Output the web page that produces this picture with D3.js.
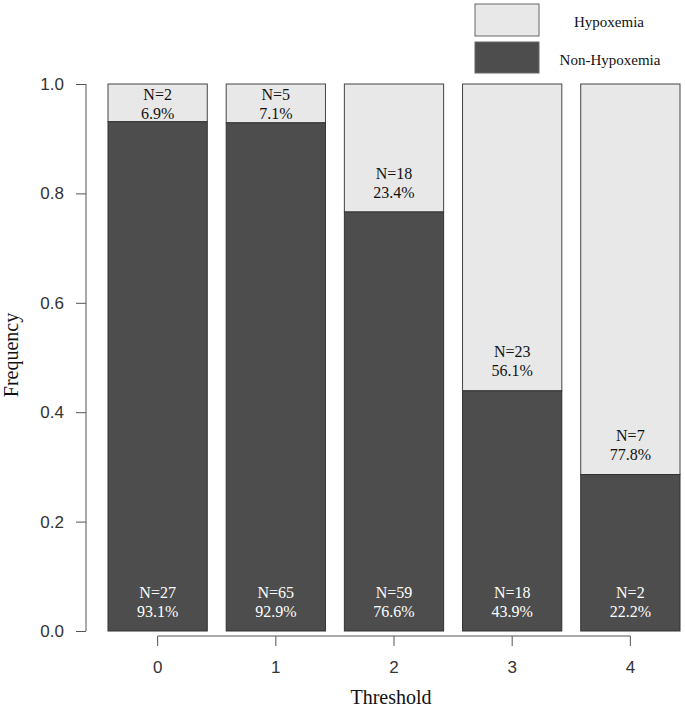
<!DOCTYPE html>
<html>
<head>
<meta charset="utf-8">
<script src="https://cdn.jsdelivr.net/npm/d3@7"></script>
<style>
html,body{margin:0;padding:0;background:#fff;}
svg{display:block;}
</style>
</head>
<body>
<svg id="chart" width="685" height="710"></svg>
<script>
const categories = ["0", "1", "2", "3", "4"];
const nonHypN = [27, 65, 59, 18, 2];
const hypN = [2, 5, 18, 23, 7];
const nonHypPct = ["93.1%", "92.9%", "76.6%", "43.9%", "22.2%"];
const hypPct = ["6.9%", "7.1%", "23.4%", "56.1%", "77.8%"];
// Non-hypoxemia segment heights as drawn in the figure
const nonHypHeight = [0.931, 0.929, 0.766, 0.439, 0.286];
const yTicks = [0, 0.2, 0.4, 0.6, 0.8, 1.0];
const legendLabels = ["Hypoxemia", "Non-Hypoxemia"];

const colLight = "#e8e8e8", colDark = "#4d4d4d";
const serif = "'Liberation Serif','Times New Roman',serif";
const sans = "'Liberation Sans',Arial,sans-serif";

const svg = d3.select("#chart");

const x = d3.scaleBand().domain(categories).range([108, 680]).paddingInner(0.16).paddingOuter(0);
const y = d3.scaleLinear().domain([0, 1]).range([631, 84]);

const data = categories.map((c, i) => ({
  c, nonN: nonHypN[i], hypN: hypN[i], nonP: nonHypPct[i], hypP: hypPct[i], h: nonHypHeight[i]
}));

// bars
const g = svg.append("g");
g.selectAll("rect.hyp").data(data).join("rect")
  .attr("x", d => x(d.c)).attr("width", x.bandwidth())
  .attr("y", y(1)).attr("height", d => y(d.h) - y(1))
  .attr("fill", colLight).attr("stroke", "#444").attr("stroke-width", 1);
g.selectAll("rect.non").data(data).join("rect")
  .attr("x", d => x(d.c)).attr("width", x.bandwidth())
  .attr("y", d => y(d.h)).attr("height", d => y(0) - y(d.h))
  .attr("fill", colDark).attr("stroke", "#333").attr("stroke-width", 1);

// labels
const cx = d => x(d.c) + x.bandwidth() / 2;
const hypY = d => Math.max(y(d.h) - 39, y(1) + 10);
const lab = svg.append("g").attr("font-family", serif).attr("font-size", 16).attr("text-anchor", "middle");
data.forEach(d => {
  lab.append("text").attr("x", cx(d)).attr("y", hypY(d)).attr("dy", "0.35em").attr("fill", "#111").text("N=" + d.hypN);
  lab.append("text").attr("x", cx(d)).attr("y", hypY(d) + 19).attr("dy", "0.35em").attr("fill", "#111").text(d.hypP);
  lab.append("text").attr("x", cx(d)).attr("y", y(0) - 39).attr("dy", "0.35em").attr("fill", "#fff").text("N=" + d.nonN);
  lab.append("text").attr("x", cx(d)).attr("y", y(0) - 20).attr("dy", "0.35em").attr("fill", "#fff").text(d.nonP);
});

// y axis
const yAxis = svg.append("g").attr("transform", "translate(86,0)")
  .call(d3.axisLeft(y).tickValues(yTicks).tickFormat(d3.format(".1f")).tickSize(10).tickPadding(12));
yAxis.select(".domain").attr("stroke", "#555").attr("d", `M0,${y(0)}V${y(1)}`);
yAxis.selectAll(".tick line").attr("stroke", "#555");
yAxis.selectAll(".tick text").attr("font-family", sans).attr("font-size", 17).attr("fill", "#333");

// x axis
const xAxis = svg.append("g").attr("transform", "translate(0,636)")
  .call(d3.axisBottom(x).tickSize(10).tickPadding(15));
const x0 = x(categories[0]) + x.bandwidth() / 2, x1 = x(categories[categories.length - 1]) + x.bandwidth() / 2;
xAxis.select(".domain").attr("stroke", "#555").attr("d", `M${x0},0H${x1}`);
xAxis.selectAll(".tick line").attr("stroke", "#555");
xAxis.selectAll(".tick text").attr("font-family", sans).attr("font-size", 17).attr("fill", "#333");

// axis titles
svg.append("text").attr("x", 391).attr("y", 704).attr("text-anchor", "middle")
  .attr("font-family", serif).attr("font-size", 20).attr("fill", "#111").text("Threshold");
svg.append("text").attr("transform", "translate(18,355) rotate(-90)").attr("text-anchor", "middle")
  .attr("font-family", serif).attr("font-size", 20).attr("fill", "#111").text("Frequency");

// legend
const legColors = [colLight, colDark];
const legY = [4, 42];
const legH = [32, 31];
const legTextX = [609, 610];
legendLabels.forEach((l, i) => {
  svg.append("rect").attr("x", 475).attr("y", legY[i]).attr("width", 64).attr("height", legH[i])
    .attr("fill", legColors[i]).attr("stroke", "#666").attr("stroke-width", 1);
  svg.append("text").attr("x", legTextX[i]).attr("y", legY[i] + legH[i] / 2 + 2).attr("dy", "0.35em")
    .attr("text-anchor", "middle").attr("font-family", serif).attr("font-size", 15).attr("fill", "#111").text(l);
});
</script>
</body>
</html>
